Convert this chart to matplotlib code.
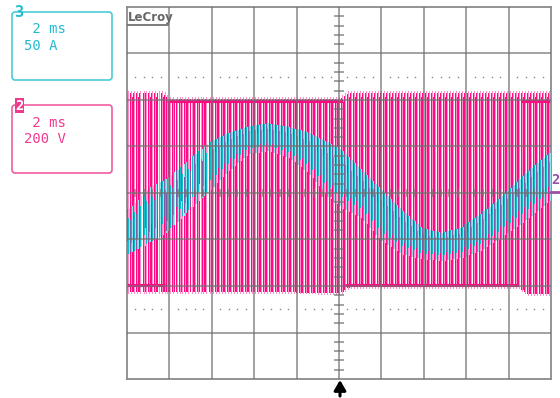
import numpy as np
import matplotlib.pyplot as plt
from matplotlib.patches import FancyBboxPatch, Rectangle

# scope settings
ms_per_div = 2
volts_per_div = 200
amps_per_div = 50
stripe_px = 3  # PWM stripe spacing on the screen, in pixels

# channel 3 (current): band edges, time in ms, edges in A
cur_t = [-10.0, -9.06, -8.12, -7.18, -6.23, -5.29, -4.35, -3.41, -2.47, -1.53, -0.59, 0.02,
         0.96, 1.91, 2.85, 3.79, 4.73, 5.67, 6.61, 7.56, 8.50, 9.44, 10.0]
cur_hi = [-18, 5, 17, 36, 54, 65, 72, 75, 71, 65, 54, 46,
          25, 3, -18, -37, -43, -37, -22, -4, 17, 36, 46]
cur_lo = [-65, -53, -40, -18, 3, 25, 43, 46, 39, 22, -4, -15,
          -26, -51, -65, -70, -72, -69, -61, -47, -32, -15, -4]

# channel 2 (voltage): envelope of the PWM stripes, V
volt_t = [-10, -8.4, -8.0, 0.0, 0.4, 8.4, 8.8, 10]
volt_hi = [430, 430, 405, 405, 430, 430, 430, 430]
volt_lo = [-420, -420, -420, -425, -400, -400, -430, -430]

# flat rail segments (start ms, end ms, level V)
rail_start = [-8.1, 8.6, -10.0, 0.3]
rail_end = [0.2, 10.0, -8.2, 8.4]
rail_level = [394, 394, -394, -394]

pink_dark = '#FF0A82'
pink_light = '#FF8FC8'
cyan_light = '#8FE6EC'
cyan_mid = '#12BDCB'
purple = '#7C5CA6'
grid_col = '#707070'

W, H = 560, 398
ax_left, ax_right, ax_top, ax_bot = 127, 551, 7, 379

fig = plt.figure(figsize=(W / 100, H / 100), dpi=100)
ax = fig.add_axes([ax_left / W, 1 - ax_bot / H, (ax_right - ax_left) / W, (ax_bot - ax_top) / H])
ax.set_xlim(-5 * ms_per_div, 5 * ms_per_div)
ax.set_ylim(-4, 4)
ax.set_xticks([])
ax.set_yticks([])
for s in ax.spines.values():
    s.set_color('#8a8a8a')
    s.set_linewidth(1.3)

# one screen pixel in ms, stripes placed on pixel centres
px = 10 * ms_per_div / (ax_right - ax_left)
t_sw = -5 * ms_per_div + (np.arange(0, ax_right - ax_left, stripe_px) + 0.5) * px
lw1 = 72 / 100  # one pixel in points
odd = (np.arange(len(t_sw)) % 2).astype(bool)

# --- channel 2 voltage stripes
v_hi = np.interp(t_sw, volt_t, volt_hi) / volts_per_div
v_lo = np.interp(t_sw, volt_t, volt_lo) / volts_per_div
ax.vlines(t_sw, v_lo, v_hi, color=pink_dark, lw=lw1, zorder=2.2, antialiased=False)
ax.vlines(t_sw + px, v_lo - 0.04, v_hi + 0.05, color=pink_light, lw=lw1, zorder=2.1, antialiased=False)
ax.vlines(t_sw[odd] + 2 * px, v_lo[odd], v_hi[odd] - 0.08, color=pink_dark, lw=lw1, zorder=2.2,
          antialiased=False)
for a, b, lev in zip(rail_start, rail_end, rail_level):
    ax.plot([a, b], [lev / volts_per_div] * 2, color=pink_dark, lw=2.2, zorder=2.3, solid_capstyle='butt')

# --- channel 3 current band
hi = np.array(cur_hi) / amps_per_div
lo = np.array(cur_lo) / amps_per_div
c_hi = np.interp(t_sw, cur_t, hi)
c_lo = np.interp(t_sw, cur_t, lo)
span = c_hi - c_lo
ax.vlines(t_sw + 2 * px, c_lo, c_hi, color=cyan_light, lw=lw1, zorder=3, antialiased=False)
ax.vlines(t_sw + px, np.where(odd, c_lo + 0.2 * span, c_lo), np.where(odd, c_hi, c_hi - 0.2 * span),
          color=cyan_mid, lw=lw1, zorder=3.1, antialiased=False)
ax.vlines(t_sw, np.where(odd, c_lo, c_lo + 0.3 * span), np.where(odd, c_hi - 0.3 * span, c_hi),
          color=purple, lw=lw1, zorder=3.2, antialiased=False)

# --- graticule
for x in np.arange(-8, 9, 2):
    ax.axvline(x, color=grid_col, lw=1.3, alpha=0.7, zorder=4)
for y in range(-3, 4):
    ax.axhline(y, color=grid_col, lw=1.3, alpha=0.7, zorder=4)
minor_y = [y for y in np.round(np.arange(-4, 4.01, 0.2), 1) if abs(y - round(y)) > 1e-6]
ax.hlines(minor_y, -0.22, 0.22, color=grid_col, lw=1.3, alpha=0.7, zorder=4)
minor_x = [x for x in np.round(np.arange(-10, 10.01, 0.4), 1) if abs(x / 2 - round(x / 2)) > 1e-6]
ax.vlines(minor_x, -0.086, 0.086, color=grid_col, lw=1.3, alpha=0.7, zorder=4)
for y in (2.5, -2.5):
    ax.plot(minor_x, [y] * len(minor_x), ls='none', marker='s', ms=1.0, mew=0,
            color='#888888', zorder=4)

# --- overlay in pixel coordinates for the side panels and markers
ov = fig.add_axes([0, 0, 1, 1], zorder=3)
ov.set_xlim(0, W)
ov.set_ylim(H, 0)
ov.axis('off')

mono = 'DejaVu Sans Mono'
c3_edge, c3_text = '#3CC8D6', '#22BCD0'
c2_edge, c2_text = '#F0509A', '#F03A8E'

ov.add_patch(FancyBboxPatch((12, 12), 100, 68, boxstyle='round,pad=0,rounding_size=3',
                            fc='white', ec=c3_edge, lw=1.1))
ov.text(19, 12.5, '3', color=c3_text, fontsize=11, fontweight='bold', family=mono,
        ha='center', va='center')
ov.text(24, 29, ' 2 ms', color=c3_text, fontsize=10, family=mono, ha='left', va='center')
ov.text(24, 46, '50 A', color=c3_text, fontsize=10, family=mono, ha='left', va='center')

ov.add_patch(FancyBboxPatch((12, 105), 100, 68, boxstyle='round,pad=0,rounding_size=3',
                            fc='white', ec=c2_edge, lw=1.1))
ov.add_patch(Rectangle((15, 98), 9, 15, fc=c2_text, ec='none'))
ov.text(19.5, 106, '2', color='white', fontsize=10, fontweight='bold', family=mono,
        ha='center', va='center')
ov.text(24, 123, ' 2 ms', color=c2_text, fontsize=10, family=mono, ha='left', va='center')
ov.text(24, 139, '200 V', color=c2_text, fontsize=10, family=mono, ha='left', va='center')

# LeCroy logo
ov.text(127.5, 17, 'LeCroy', color='#666666', fontsize=8.5, fontweight='bold', ha='left', va='center')
ov.plot([128, 168], [24.5, 24.5], color='#666666', lw=1.2)

# channel 2 ground marker on the right edge
ov.text(551.5, 180, '2', color='#9A4FA8', fontsize=10, fontweight='bold', family=mono,
        ha='left', va='center')
ov.plot([551, 560], [191.5, 191.5], color='#9A4FA8', lw=2)

# trigger arrow under the centre line
ov.annotate('', xy=(340, 380), xytext=(340, 396),
            arrowprops=dict(arrowstyle='-|>,head_width=0.35,head_length=0.6',
                            lw=2.2, color='black', shrinkA=0, shrinkB=0))

fig.savefig('out.png', dpi=100)
